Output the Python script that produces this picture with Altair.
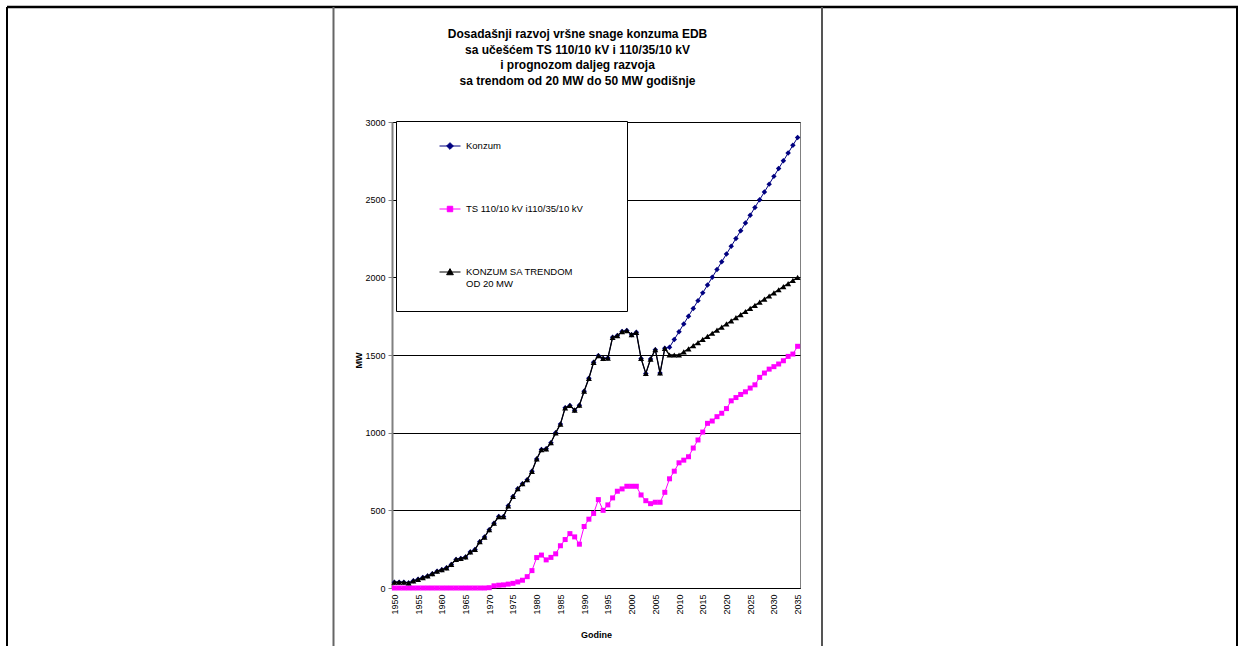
import altair as alt
import pandas as pd

years = list(range(1950, 2036))

konzum = [37, 37, 37, 33, 46, 56, 67, 78, 92, 108,
          118, 130, 152, 184, 190, 200, 232, 248, 298, 328,
          375, 417, 460, 460, 529, 589, 639, 671, 697, 751,
          831, 891, 896, 935, 999, 1055, 1160, 1175, 1145, 1177,
          1267, 1350, 1453, 1496, 1478, 1480, 1614, 1625, 1651, 1657,
          1631, 1646, 1478, 1381, 1474, 1534, 1384, 1543,
          1550, 1600, 1650, 1700, 1750, 1800, 1850, 1900, 1950, 2000,
          2050, 2100, 2150, 2200, 2250, 2300, 2350, 2400, 2450, 2500,
          2550, 2600, 2650, 2700, 2750, 2800, 2850, 2900]

ts = [0, 0, 0, 0, 0, 0, 0, 0, 0, 0,
      0, 0, 0, 0, 0, 0, 0, 0, 0, 0,
      2, 14, 18, 20, 25, 30, 39, 50, 73, 112,
      196, 212, 181, 197, 220, 272, 312, 350, 329, 282,
      396, 443, 480, 569, 500, 535, 580, 623, 638, 655,
      655, 655, 599, 562, 543, 552, 552, 616, 703, 752,
      806, 823, 845, 901, 953, 1004, 1060, 1075, 1103, 1125,
      1155, 1205, 1226, 1246, 1263, 1287, 1308, 1356, 1384, 1409,
      1425, 1442, 1463, 1491, 1506, 1556]

trend = [37, 37, 37, 33, 46, 56, 67, 78, 92, 108,
         118, 130, 152, 184, 190, 200, 232, 248, 298, 328,
         375, 417, 460, 460, 529, 589, 639, 671, 697, 751,
         831, 891, 896, 935, 999, 1055, 1160, 1175, 1145, 1177,
         1267, 1350, 1453, 1496, 1478, 1480, 1614, 1625, 1651, 1657,
         1631, 1646, 1478, 1381, 1474, 1534, 1384, 1543,
         1500, 1500, 1500, 1520, 1540, 1560, 1580, 1600, 1620, 1640,
         1660, 1680, 1700, 1720, 1740, 1760, 1780, 1800, 1820, 1840,
         1860, 1880, 1900, 1920, 1940, 1960, 1980, 2000]

series_names = ["Konzum", "TS 110/10 kV i110/35/10 kV", "KONZUM SA TRENDOM OD 20 MW"]
series_values = [konzum, ts, trend]
colors = ["#000080", "#FF00FF", "#000000"]
markers = ["diamond", "square", "triangle-up"]
marker_sizes = [30, 25, 36]
line_widths = [1, 1, 1.3]
legend_paths = [
    "M-1,0L1,0M0,-0.32L0.32,0L0,0.32L-0.32,0Z",
    "M-1,0L1,0M-0.26,-0.26L0.26,-0.26L0.26,0.26L-0.26,0.26Z",
    "M-1,0L1,0M0,-0.32L0.32,0.26L-0.32,0.26Z",
]
y_ticks = [0, 500, 1000, 1500, 2000, 2500, 3000]
x_ticks = list(range(1950, 2036, 5))
title_lines = [
    "Dosadašnji razvoj vršne snage konzuma EDB",
    "sa učešćem TS 110/10 kV i 110/35/10 kV",
    "i prognozom daljeg razvoja",
    "sa trendom od 20 MW do 50 MW godišnje",
]

rows = []
for name, vals in zip(series_names, series_values):
    for yr, v in zip(years, vals):
        rows.append({"year": yr, "value": v, "series": name})
df = pd.DataFrame(rows)
one = pd.DataFrame({"k": [0]})

FONT = "Liberation Sans"

x_enc = alt.X("year:Q",
              scale=alt.Scale(domain=[1949.5, 2035.5], nice=False, zero=False),
              axis=alt.Axis(values=x_ticks, format="d", labelAngle=270, title="Godine",
                            grid=False, ticks=False, labelPadding=6, titlePadding=16,
                            labelFontSize=9, labelFont=FONT, labelColor="#000",
                            titleFont=FONT, titleFontSize=9, titleFontWeight="bold",
                            titleColor="#000", domainColor="#000", domainWidth=1,
                            labelOverlap=False))
y_enc = alt.Y("value:Q",
              scale=alt.Scale(domain=[0, 3000], nice=False),
              axis=alt.Axis(values=y_ticks, format="d", title="MW", grid=True, gridColor="#000",
                            gridWidth=1, gridOpacity=1, tickSize=4, tickColor="#808080",
                            domainColor="#808080", domainWidth=2, labelPadding=3,
                            labelFontSize=9, labelFont=FONT, labelColor="#000",
                            titleFont=FONT, titleFontSize=9, titleFontWeight="bold",
                            titleColor="#000", titleX=-29, titleY=238, titleAngle=270))

layers = []

# legend box (plot-area decoration)
layers.append(alt.Chart(one).mark_rect(fill="white", stroke="black", strokeWidth=1).encode(
    x=alt.value(4.5), x2=alt.value(235.5), y=alt.value(-0.5), y2=alt.value(189.5)))

for i, name in enumerate(series_names):
    sub = alt.Chart(df).transform_filter(alt.datum.series == name)
    layers.append(sub.mark_line(color=colors[i], strokeWidth=line_widths[i]).encode(x=x_enc, y=y_enc))
    layers.append(sub.mark_point(shape=markers[i], filled=True, color=colors[i],
                                 size=marker_sizes[i], opacity=1).encode(x=x_enc, y=y_enc))

leg = alt.Legend(orient="none", legendX=47, legendY=4, title=None,
                 labelFont=FONT, labelFontSize=9.5, labelColor="#000", labelLimit=400,
                 labelOffset=5, symbolSize=441, symbolStrokeWidth=1,
                 clipHeight=40, rowPadding=23, padding=0,
                 labelExpr="datum.label == 'KONZUM SA TRENDOM OD 20 MW' ? ['KONZUM SA TRENDOM', 'OD 20 MW'] : datum.label")

dummy = alt.Chart(df).transform_filter("false").mark_point(filled=True, opacity=1).encode(
    fill=alt.Fill("series:N", scale=alt.Scale(domain=series_names, range=colors), legend=leg),
    stroke=alt.Stroke("series:N", scale=alt.Scale(domain=series_names, range=colors), legend=leg),
    shape=alt.Shape("series:N", scale=alt.Scale(domain=series_names, range=legend_paths), legend=leg),
)
layers.append(dummy)

# page frame lines (Word table borders around the chart)
frame = alt.Chart(one)
layers.append(frame.mark_rule(color="#000", strokeWidth=2.5).encode(
    x=alt.value(-385), x2=alt.value(846), y=alt.value(-115)))
layers.append(frame.mark_rule(color="#000", strokeWidth=2).encode(
    x=alt.value(-385), y=alt.value(-115), y2=alt.value(530)))
layers.append(frame.mark_rule(color="#000", strokeWidth=2).encode(
    x=alt.value(845), y=alt.value(-115), y2=alt.value(530)))
layers.append(frame.mark_rule(color="#666", strokeWidth=2).encode(
    x=alt.value(-58.5), y=alt.value(-115), y2=alt.value(530)))
layers.append(frame.mark_rule(color="#555", strokeWidth=2).encode(
    x=alt.value(430), y=alt.value(-115), y2=alt.value(530)))

chart = alt.layer(*layers).properties(
    width=408, height=466,
    title=alt.Title(text=title_lines, font=FONT, fontSize=12, fontWeight="bold",
                    color="#000", lineHeight=15.5, anchor="middle", dx=-18.5, offset=-82),
    autosize=alt.AutoSizeParams(type="none"),
    padding={"left": 392, "top": 122, "right": 444, "bottom": 58},
    background="white",
).configure_view(stroke="#808080", strokeWidth=1)

chart.save("out.html", embed_options={"renderer": "svg", "actions": False})
